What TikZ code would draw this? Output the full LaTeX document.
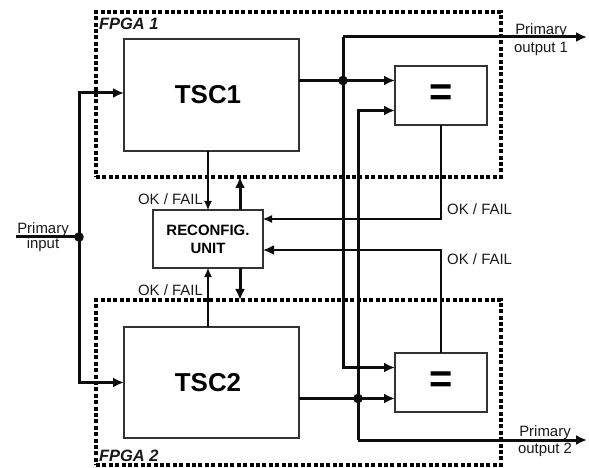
\documentclass[tikz,border=0pt]{standalone}
\usepackage{fontspec}
\setmainfont{Liberation Sans}
\usetikzlibrary{arrows.meta}
\begin{document}
\begin{tikzpicture}[x=1bp,y=-1bp,
  blk/.style={draw=black!80, line width=1.3bp, inner sep=0pt, outer sep=0pt, fill=white},
  fpga/.style={draw=black, line width=4bp, dash pattern=on 4bp off 2.4bp, inner sep=0pt, outer sep=0pt},
  bus/.style={draw=black!95, line width=3bp},
  sig/.style={draw=black!95, line width=1.1bp},
  mid/.style={draw=black!95, line width=1.8bp},
  bigtip/.style={-{Latex[length=11bp,width=10bp]}},
  smalltip/.style={-{Latex[length=9bp,width=8bp]}},
  lbl/.style={font=\fontsize{15}{18}\selectfont, inner sep=0pt, text=black!90},
  dot/.style={fill=black!95}
]
\useasboundingbox (0,0) rectangle (589,468);

% FPGA regions
\node[fpga, minimum width=405bp, minimum height=165bp] (fpga1) at (298.5,94.5) {};
\node[fpga, minimum width=405bp, minimum height=165bp] (fpga2) at (298.5,382.5) {};
\node[lbl, font=\fontsize{16.5}{18}\selectfont\bfseries\itshape, anchor=base west] (f1lbl) at (99,29.5) {FPGA 1};
\node[lbl, font=\fontsize{16.5}{18}\selectfont\bfseries\itshape, anchor=base west] (f2lbl) at (99,461) {FPGA 2};

% blocks
\node[blk, minimum width=175bp, minimum height=112bp, font=\fontsize{26}{28}\selectfont\bfseries] (tsc1) at (211.5,95) {\hspace*{-7bp}TSC1};
\node[blk, minimum width=175bp, minimum height=111bp, font=\fontsize{26}{28}\selectfont\bfseries] (tsc2) at (211.5,382.5) {\hspace*{-7bp}TSC2};
\node[blk, minimum width=92bp, minimum height=59bp, font=\fontsize{40}{40}\selectfont\bfseries] (eq1) at (441,95.5) {\raisebox{-6bp}{=}};
\node[blk, minimum width=92bp, minimum height=59bp, font=\fontsize{40}{40}\selectfont\bfseries] (eq2) at (441,382.5) {\raisebox{-6bp}{=}};
\node[blk, minimum width=110bp, minimum height=58bp, align=center, font=\fontsize{15}{18}\selectfont\bfseries] (rec) at (208,239) {RECONFIG.\\UNIT};

% coordinates
\coordinate (pin) at (16,237);
\coordinate (j0) at (79,237);
\coordinate (e1a) at ([yshift=15bp]eq1.west);
\coordinate (e1b) at ([yshift=-15bp]eq1.west);
\coordinate (e2a) at ([yshift=15bp]eq2.west);
\coordinate (e2b) at ([yshift=-16bp]eq2.west);
\coordinate (po1s) at (343,37);
\coordinate (po1) at (587,37);
\coordinate (po2s) at (358,440);
\coordinate (po2) at (587,440);
\coordinate (d1) at (po1s |- e1a);
\coordinate (d2) at (po2s |- e2b);
\coordinate (r1) at ([yshift=20bp]rec.east);
\coordinate (r2) at ([yshift=-11bp]rec.east);
\coordinate (rt) at ([xshift=32bp]rec.north);
\coordinate (rb) at ([xshift=32bp]rec.south);

% primary input
\draw[bus] (pin) -- (j0);
\draw[bus, bigtip] (j0) |- ([yshift=2bp]tsc1.west);
\draw[bus, bigtip] (j0) |- (tsc2.west);
\fill[dot] (j0) circle (4.8bp);
\node[lbl, align=center, anchor=north, font=\fontsize{15}{16}\selectfont] (pinlbl) at (43,222) {Primary\\input};

% TSC1 output and primary output 1
\draw[bus, bigtip] (tsc1.east |- e1a) -- (e1a);
\draw[bus, bigtip] (po1s) -- (po1);
\draw[bus, bigtip] (po1s) |- (e2a);
\fill[dot] (d1) circle (4.8bp);
\node[lbl, align=center, anchor=north, font=\fontsize{15}{18.5}\selectfont] (po1lbl) at (541,23) {Primary\\output 1};

% TSC2 output and primary output 2
\draw[bus, bigtip] (tsc2.east |- e2b) -- (e2b);
\draw[bus, bigtip] (po2s) -- (po2);
\draw[bus, bigtip] (po2s) |- (e1b);
\fill[dot] (d2) circle (4.8bp);
\node[lbl, align=center, anchor=north, font=\fontsize{15}{18}\selectfont] (po2lbl) at (545,425) {Primary\\output 2};

% comparator results
\draw[sig, smalltip] (eq1.south) |- (r1);
\draw[mid, bigtip] (eq2.north) |- (r2);
\node[lbl, anchor=base west] (ok3) at (447,215) {OK / FAIL};
\node[lbl, anchor=base west] (ok4) at (447,265) {OK / FAIL};

% TSC status to reconfig
\draw[sig, smalltip] (rec.north |- tsc1.south) -- (rec.north);
\draw[sig, smalltip] (rec.south |- tsc2.north) -- (rec.south);
\node[lbl, anchor=base east] (ok1) at (203,205) {OK / FAIL};
\node[lbl, anchor=base east] (ok2) at (203,295) {OK / FAIL};

% reconfiguration
\draw[bus, bigtip] (rt) -- (rt |- fpga1.south);
\draw[bus, bigtip] (rb) -- (rb |- fpga2.north);
\end{tikzpicture}
\end{document}
